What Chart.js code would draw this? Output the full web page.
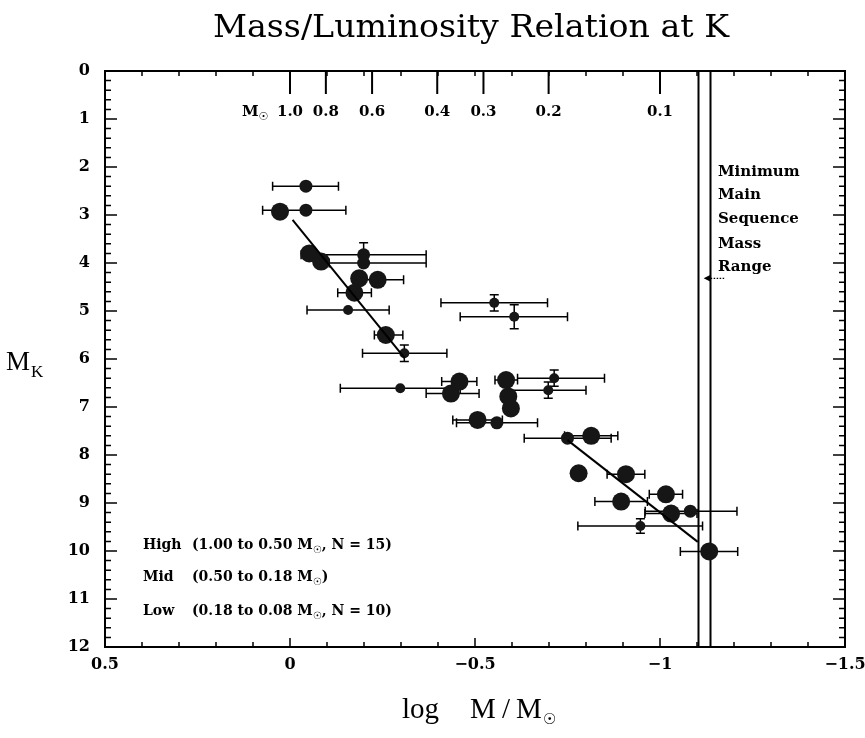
<!DOCTYPE html>
<html><head><meta charset="utf-8">
<script src="https://cdn.jsdelivr.net/npm/chart.js@4.4.1/dist/chart.umd.min.js"></script>
<style>html,body{margin:0;padding:0;background:#fff;}canvas{display:block;}</style>
</head><body>
<canvas id="c" width="865" height="738"></canvas>
<script>
// ---------- data ----------
// log M/Mo and M_K for the large markers
const largeX = [0.027, -0.052, -0.084, -0.187, -0.237, -0.174, -0.259, -0.435, -0.458, -0.584, -0.590, -0.597, -0.507, -0.814, -0.780, -0.908, -1.016, -0.895, -1.030, -1.133];
const largeY = [2.93, 3.80, 3.97, 4.32, 4.35, 4.62, 5.50, 6.72, 6.47, 6.44, 6.78, 7.03, 7.27, 7.60, 8.38, 8.40, 8.82, 8.97, 9.22, 10.01];
const largeXErrA = [null, null, null, null, -0.170, -0.129, -0.228, -0.368, -0.410, -0.554, null, null, -0.440, -0.742, null, -0.857, -0.971, -0.824, -0.959, -1.055];
const largeXErrB = [null, null, null, null, -0.307, -0.220, -0.305, -0.511, -0.505, -0.615, null, null, -0.574, -0.886, null, -0.959, -1.061, -0.966, -1.100, -1.210];
const largeYErr  = [null, null, null, null, null, null, null, null, null, null, null, null, null, null, null, null, null, null, null, null];

const mediumX = [-0.043, -0.043, -0.199, -0.199, -0.559, -0.750, -1.082];
const mediumY = [2.40, 2.90, 3.83, 4.00, 7.33, 7.65, 9.17];
const mediumXErrA = [0.047, 0.074, -0.030, -0.106, -0.450, -0.633, -0.960];
const mediumXErrB = [-0.131, -0.151, -0.368, -0.368, -0.669, -0.868, -1.208];
const mediumYErr  = [null, null, 0.25, null, null, null, null];

const smallX = [-0.157, -0.309, -0.298, -0.552, -0.606, -0.714, -0.698, -0.947];
const smallY = [4.98, 5.88, 6.61, 4.83, 5.12, 6.40, 6.65, 9.48];
const smallXErrA = [-0.046, -0.196, -0.136, -0.408, -0.460, -0.615, -0.590, -0.778];
const smallXErrB = [-0.268, -0.424, -0.460, -0.696, -0.750, -0.850, -0.800, -1.115];
const smallYErr  = [null, 0.17, null, 0.17, 0.25, 0.17, 0.17, 0.15];

// fitted relations
const fitHighX = [-0.007, -0.310];
const fitHighY = [3.10, 5.98];
const fitLowX = [-0.750, -1.102];
const fitLowY = [7.69, 9.81];

// minimum main sequence mass range (log M)
const mmsLines = [-1.102, -1.136];
const mmsArrowY = 4.32;

// top mass scale (solar masses)
const massValues = [1.0, 0.8, 0.6, 0.4, 0.3, 0.2, 0.1];
const massLabels = ['1.0', '0.8', '0.6', '0.4', '0.3', '0.2', '0.1'];

// axis ticks
const xTickStep = 0.5;
const yTickStep = 1;

const titleText = 'Mass/Luminosity Relation at K';
const mmsText = ['Minimum', 'Main', 'Sequence', 'Mass', 'Range'];
const groupNames = ['High', 'Mid', 'Low'];
const groupRanges = [
  [['(1.00 to 0.50 M', 'n'], ['\u2609', 'sub'], [', N = 15)', 'n']],
  [['(0.50 to 0.18 M', 'n'], ['\u2609', 'sub'], [')', 'n']],
  [['(0.18 to 0.08 M', 'n'], ['\u2609', 'sub'], [', N = 10)', 'n']]
];

// ---------- helpers ----------
const pts = (xs, ys) => xs.map((x, i) => ({ x: x, y: ys[i] }));
const MARK = '#161616';
const SERIF_B = '"DejaVu Serif", serif';

function rich(ctx, parts, x, y, size, family, weight) {
  let cx = x;
  for (const [t, k] of parts) {
    if (k === 'sub') {
      ctx.font = weight + ' ' + Math.round(size * 0.72) + 'px "DejaVu Sans", ' + family;
      ctx.fillText(t, cx, y + size * 0.28);
    } else {
      ctx.font = weight + ' ' + size + 'px ' + family;
      ctx.fillText(t, cx, y);
    }
    cx += ctx.measureText(t).width;
  }
  return cx;
}

const groups = [
  { x: largeX, y: largeY, a: largeXErrA, b: largeXErrB, e: largeYErr },
  { x: mediumX, y: mediumY, a: mediumXErrA, b: mediumXErrB, e: mediumYErr },
  { x: smallX, y: smallY, a: smallXErrA, b: smallXErrB, e: smallYErr }
];

const deco = {
  id: 'deco',
  beforeDraw(chart) {
    const ctx = chart.ctx;
    ctx.save();
    ctx.fillStyle = '#fff';
    ctx.fillRect(0, 0, chart.width, chart.height);
    ctx.restore();
  },
  beforeDatasetsDraw(chart) {
    const ctx = chart.ctx, xs = chart.scales.x, ys = chart.scales.y, a = chart.chartArea;
    ctx.save();
    ctx.strokeStyle = '#000';
    // MMS vertical lines
    ctx.lineWidth = 2;
    ctx.beginPath();
    for (const v of mmsLines) {
      const px = Math.round(xs.getPixelForValue(v)) + 0.5;
      ctx.moveTo(px, a.top); ctx.lineTo(px, a.bottom);
    }
    ctx.stroke();
    // error bars
    ctx.lineWidth = 1.5;
    ctx.beginPath();
    const cap = 4.5;
    for (const g of groups) {
      for (let i = 0; i < g.x.length; i++) {
        const py = ys.getPixelForValue(g.y[i]);
        if (g.a[i] !== null && g.b[i] !== null) {
          const x1 = xs.getPixelForValue(g.a[i]), x2 = xs.getPixelForValue(g.b[i]);
          ctx.moveTo(x1, py); ctx.lineTo(x2, py);
          ctx.moveTo(x1, py - cap); ctx.lineTo(x1, py + cap);
          ctx.moveTo(x2, py - cap); ctx.lineTo(x2, py + cap);
        }
        if (g.e[i] !== null) {
          const px = xs.getPixelForValue(g.x[i]);
          const y1 = ys.getPixelForValue(g.y[i] - g.e[i]), y2 = ys.getPixelForValue(g.y[i] + g.e[i]);
          ctx.moveTo(px, y1); ctx.lineTo(px, y2);
          ctx.moveTo(px - cap, y1); ctx.lineTo(px + cap, y1);
          ctx.moveTo(px - cap, y2); ctx.lineTo(px + cap, y2);
        }
      }
    }
    ctx.stroke();
    ctx.restore();
  },
  afterDraw(chart) {
    const ctx = chart.ctx, xs = chart.scales.x, ys = chart.scales.y, a = chart.chartArea;
    ctx.save();
    ctx.strokeStyle = '#000';
    ctx.fillStyle = '#000';
    // frame
    ctx.lineWidth = 2;
    ctx.strokeRect(a.left, a.top, a.right - a.left, a.bottom - a.top);
    // x minor/major ticks (0.1 steps) top and bottom
    ctx.lineWidth = 1.5;
    ctx.beginPath();
    for (let k = -15; k <= 5; k++) {
      const px = xs.getPixelForValue(k / 10);
      const len = (k % 5 === 0) ? 9 : 5;
      ctx.moveTo(px, a.bottom); ctx.lineTo(px, a.bottom - len);
      ctx.moveTo(px, a.top); ctx.lineTo(px, a.top + 5);
    }
    // y ticks (0.2 steps) left and right
    for (let k = 0; k <= 60; k++) {
      const py = ys.getPixelForValue(k / 5);
      const len = (k % 5 === 0) ? 12 : 6;
      ctx.moveTo(a.left, py); ctx.lineTo(a.left + len, py);
      ctx.moveTo(a.right, py); ctx.lineTo(a.right - len, py);
    }
    ctx.stroke();
    // top mass scale
    ctx.lineWidth = 2;
    ctx.beginPath();
    for (const m of massValues) {
      const px = xs.getPixelForValue(Math.log10(m));
      ctx.moveTo(px, a.top); ctx.lineTo(px, a.top + 23);
    }
    ctx.stroke();
    ctx.textBaseline = 'alphabetic';
    ctx.textAlign = 'center';
    ctx.font = 'bold 15px ' + SERIF_B;
    massValues.forEach((m, i) => {
      ctx.fillText(massLabels[i], xs.getPixelForValue(Math.log10(m)), 116);
    });
    ctx.textAlign = 'left';
    rich(ctx, [['M', 'n'], ['\u2609', 'sub']], 242, 116, 15, SERIF_B, 'bold');

    // MMS annotation
    ctx.font = 'bold 15px ' + SERIF_B;
    const yy = [176, 199, 223, 248, 271];
    mmsText.forEach((t, i) => ctx.fillText(t, 718, yy[i]));
    // arrow
    const tipX = xs.getPixelForValue(-1.118), ay = ys.getPixelForValue(mmsArrowY);
    const tailX = xs.getPixelForValue(-1.175);
    ctx.beginPath();
    ctx.moveTo(tipX, ay); ctx.lineTo(tipX + 7, ay - 3.5); ctx.lineTo(tipX + 7, ay + 3.5); ctx.closePath();
    ctx.fill();
    ctx.lineWidth = 1.2;
    ctx.setLineDash([1.5, 1.5]);
    ctx.beginPath(); ctx.moveTo(tipX + 7, ay); ctx.lineTo(tailX, ay); ctx.stroke();
    ctx.setLineDash([]);

    // group legend text
    const gy = [549, 581, 615];
    groupNames.forEach((n, i) => {
      ctx.font = 'bold 14px ' + SERIF_B;
      ctx.fillText(n, 143, gy[i]);
      rich(ctx, groupRanges[i], 192, gy[i], 14, SERIF_B, 'bold');
    });

    // title (slab-serif look, fitted to the reference width)
    ctx.save();
    ctx.font = '31px "DejaVu Serif", serif';
    ctx.textAlign = 'left';
    const tw = ctx.measureText(titleText).width;
    const targetW = 516;
    ctx.translate(213, 37);
    ctx.scale(targetW / tw, 1);
    ctx.fillText(titleText, 0, 0);
    ctx.restore();

    // y axis label M_K
    ctx.textAlign = 'left';
    ctx.font = '27px "Liberation Serif", serif';
    ctx.fillText('M', 6, 370);
    ctx.font = '17px "Liberation Serif", serif';
    ctx.fillText('K', 31, 377);

    // x axis label log M/Mo
    ctx.font = '29px "Liberation Serif", serif';
    ctx.fillText('log', 402, 718);
    ctx.fillText('M', 470, 718);
    ctx.fillText('/', 502, 718);
    ctx.fillText('M', 516, 718);
    ctx.font = '15px "DejaVu Sans", sans-serif';
    ctx.fillText('\u2609', 543, 724);
    ctx.restore();
  }
};

const fmt = v => {
  const r = Math.round(v * 10) / 10;
  if (r === 0) return '0';
  return r < 0 ? '\u2212' + Math.abs(r) : String(r);
};

new Chart(document.getElementById('c'), {
  type: 'scatter',
  data: {
    datasets: [
      { type: 'line', label: 'High-mass fit', data: pts(fitHighX, fitHighY), borderColor: '#000', borderWidth: 2, pointRadius: 0, fill: false, tension: 0 },
      { type: 'line', label: 'Low-mass fit', data: pts(fitLowX, fitLowY), borderColor: '#000', borderWidth: 2, pointRadius: 0, fill: false, tension: 0 },
      { label: 'large', data: pts(largeX, largeY), pointRadius: 9, backgroundColor: MARK, borderColor: MARK, borderWidth: 0 },
      { label: 'medium', data: pts(mediumX, mediumY), pointRadius: 6.5, backgroundColor: MARK, borderColor: MARK, borderWidth: 0 },
      { label: 'small', data: pts(smallX, smallY), pointRadius: 5, backgroundColor: MARK, borderColor: MARK, borderWidth: 0 }
    ]
  },
  options: {
    responsive: false,
    animation: false,
    devicePixelRatio: 1,
    layout: { padding: { left: 0, right: 20, top: 71, bottom: 0 } },
    plugins: { legend: { display: false }, tooltip: { enabled: false }, title: { display: false } },
    scales: {
      x: {
        type: 'linear', reverse: true, min: -1.5, max: 0.5,
        grid: { display: false, drawTicks: false }, border: { display: false },
        ticks: { stepSize: xTickStep, padding: 8, color: '#000', maxRotation: 0, autoSkip: false,
          font: { family: 'DejaVu Serif', weight: 'bold', size: 16 }, callback: v => fmt(v) },
        afterFit: s => { s.height = 91; s.paddingLeft = 0; s.paddingRight = 0; }
      },
      y: {
        reverse: true, min: 0, max: 12,
        grid: { display: false, drawTicks: false }, border: { display: false },
        ticks: { stepSize: yTickStep, padding: 15, color: '#000', autoSkip: false,
          font: { family: 'DejaVu Serif', weight: 'bold', size: 16 } },
        afterFit: s => { s.width = 105; s.paddingTop = 0; s.paddingBottom = 0; }
      }
    }
  },
  plugins: [deco]
});
</script>
</body></html>
